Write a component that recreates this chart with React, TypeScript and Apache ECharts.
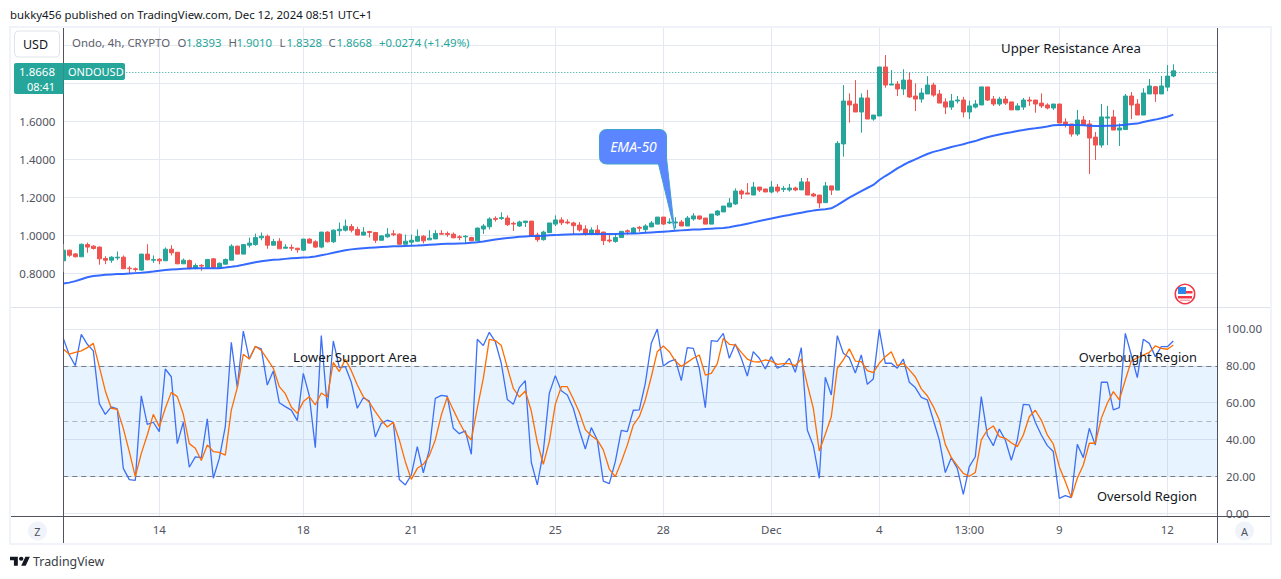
import React, { useEffect, useRef } from "react";
import * as echarts from "echarts";

const opens = [
  .867,.923,.903,.888,.952,.944,.939,.879,.870,.882,
  .886,.828,.825,.818,.902,.870,.875,.867,.928,.912,
  .851,.868,.826,.843,.833,.877,.830,.849,.870,.944,
  .902,.949,.952,.988,.996,.949,.970,.933,.937,.933,
  .923,.981,.967,.939,1.018,.967,1.025,1.028,1.047,1.032,
  1.002,1.021,1.016,.975,.993,1.009,1.007,.954,.965,.970,
  .996,.977,.982,1.011,1.011,1.007,.993,.993,.989,.972,
  1.034,1.046,1.090,1.089,1.092,1.064,1.050,1.068,1.076,1.003,
  .978,1.015,1.060,1.082,1.071,1.066,1.055,1.034,1.008,1.029,
  1.018,.976,.969,.989,1.025,1.011,1.043,1.031,1.045,1.060,
  1.097,1.066,1.066,1.071,1.050,1.087,1.103,1.092,1.060,1.108,
  1.124,1.150,1.166,1.234,1.224,1.213,1.255,1.245,1.229,1.255,
  1.243,1.240,1.250,1.240,1.282,1.218,1.213,1.173,1.261,1.239,
  1.482,1.708,1.692,1.650,1.724,1.613,1.629,1.887,1.792,1.797,
  1.771,1.818,1.734,1.718,1.745,1.792,1.745,1.703,1.676,1.708,
  1.713,1.650,1.676,1.687,1.782,1.718,1.692,1.718,1.703,1.661,
  1.676,1.713,1.713,1.697,1.687,1.671,1.692,1.597,1.587,1.534,
  1.608,1.587,1.518,1.476,1.618,1.624,1.555,1.558,1.734,1.692,
  1.634,1.745,1.783,1.745,1.781,1.8393,
];
const closes = [
  .923,.896,.888,.954,.939,.932,.877,.870,.886,.886,
  .825,.825,.821,.902,.872,.874,.867,.928,.909,.851,
  .870,.826,.842,.839,.874,.832,.854,.874,.944,.902,
  .952,.960,.989,.996,.949,.968,.930,.939,.933,.925,
  .981,.960,.939,1.018,.967,1.028,1.033,1.049,1.028,1.002,
  1.018,1.016,.975,.998,1.007,1.004,.954,.970,.975,.995,
  .972,.986,1.011,1.007,1.005,.988,.989,.996,.972,1.039,
  1.050,1.087,1.085,1.094,1.057,1.060,1.071,1.076,.997,.978,
  1.018,1.066,1.082,1.067,1.066,1.052,1.029,1.008,1.029,1.011,
  .973,.971,.990,1.022,1.020,1.039,1.038,1.050,1.066,1.097,
  1.060,1.071,1.071,1.050,1.092,1.103,1.087,1.060,1.113,1.129,
  1.155,1.171,1.234,1.218,1.218,1.255,1.239,1.229,1.255,1.234,
  1.248,1.250,1.240,1.282,1.213,1.208,1.171,1.261,1.239,1.485,
  1.708,1.687,1.650,1.724,1.613,1.634,1.887,1.792,1.797,1.771,
  1.818,1.729,1.718,1.750,1.792,1.739,1.697,1.676,1.708,1.713,
  1.650,1.682,1.692,1.782,1.713,1.692,1.718,1.697,1.661,1.682,
  1.713,1.708,1.692,1.682,1.671,1.692,1.592,1.582,1.534,1.608,
  1.582,1.513,1.476,1.624,1.624,1.555,1.566,1.734,1.687,1.634,
  1.750,1.787,1.745,1.787,1.839,1.8668,
];
const lows = [
  .865,.888,.885,.888,.909,.926,.846,.849,.856,.870,
  .825,.800,.809,.815,.870,.856,.849,.867,.895,.851,
  .851,.822,.822,.814,.833,.832,.830,.849,.870,.902,
  .902,.937,.946,.975,.930,.949,.930,.933,.919,.909,
  .918,.958,.935,.933,.963,.960,.998,1.021,1.016,1.000,
  1.000,.989,.961,.975,.988,.996,.951,.954,.949,.968,
  .958,.977,.982,1.005,.993,.986,.975,.958,.970,.972,
  1.008,1.032,1.073,1.082,1.050,1.024,1.045,1.045,.997,.967,
  .973,1.015,1.050,1.055,1.059,1.004,1.020,.999,1.002,1.002,
  .950,.962,.962,.989,1.003,1.011,1.020,1.011,1.045,1.060,
  1.055,1.060,1.038,1.050,1.050,1.078,1.082,1.060,1.060,1.103,
  1.124,1.150,1.160,1.192,1.218,1.213,1.229,1.229,1.222,1.225,
  1.229,1.231,1.233,1.240,1.213,1.203,1.145,1.173,1.213,1.239,
  1.415,1.594,1.650,1.541,1.613,1.604,1.629,1.778,1.792,1.734,
  1.739,1.724,1.655,1.699,1.745,1.730,1.697,1.639,1.661,1.695,
  1.622,1.613,1.669,1.687,1.708,1.682,1.682,1.687,1.661,1.661,
  1.661,1.682,1.646,1.671,1.664,1.661,1.592,1.569,1.520,1.524,
  1.582,1.324,1.397,1.462,1.476,1.555,1.471,1.555,1.613,1.634,
  1.634,1.745,1.703,1.745,1.760,1.8328,
];
const highs = [
  .925,.925,.908,.957,.963,.949,.942,.891,.891,.916,
  .895,.839,.832,.904,.954,.895,.881,.937,.949,.912,
  .879,.874,.853,.849,.874,.881,.858,.879,.954,.947,
  .954,.989,1.010,1.016,1.005,.982,.986,.954,.953,.935,
  .982,.985,.975,1.019,1.022,1.032,1.068,1.084,1.060,1.046,
  1.044,1.025,1.018,1.002,1.039,1.028,1.011,1.005,1.005,1.032,
  1.002,1.028,1.028,1.028,1.021,1.016,1.002,1.002,.993,1.042,
  1.060,1.096,1.101,1.122,1.106,1.073,1.078,1.076,1.076,1.015,
  1.025,1.066,1.106,1.096,1.085,1.073,1.071,1.054,1.043,1.054,
  1.020,1.004,1.008,1.022,1.032,1.045,1.050,1.059,1.076,1.097,
  1.097,1.090,1.096,1.082,1.103,1.118,1.103,1.092,1.113,1.134,
  1.155,1.197,1.248,1.243,1.276,1.282,1.255,1.245,1.287,1.271,
  1.261,1.271,1.257,1.303,1.303,1.225,1.213,1.282,1.261,1.497,
  1.792,1.748,1.818,1.748,1.766,1.634,1.887,1.950,1.871,1.813,
  1.875,1.859,1.801,1.775,1.839,1.804,1.766,1.722,1.745,1.734,
  1.730,1.710,1.713,1.782,1.782,1.734,1.730,1.734,1.703,1.696,
  1.724,1.730,1.713,1.748,1.696,1.692,1.692,1.617,1.587,1.661,
  1.629,1.608,1.545,1.692,1.682,1.661,1.590,1.745,1.755,1.718,
  1.775,1.824,1.787,1.839,1.897,1.9010,
];
const ema50 = [
  .747,.752,.760,.770,.780,.787,.790,.793,.795,.797,
  .798,.800,.802,.804,.807,.810,.814,.818,.821,.823,
  .825,.826,.827,.827,.828,.828,.828,.831,.835,.840,
  .846,.853,.859,.864,.869,.872,.874,.877,.880,.882,
  .884,.886,.890,.896,.902,.909,.916,.922,.927,.930,
  .933,.935,.937,.939,.941,.943,.944,.945,.946,.947,
  .949,.951,.953,.955,.956,.957,.958,.959,.962,.964,
  .968,.974,.979,.983,.987,.990,.993,.995,.997,.998,
  .999,1.001,1.002,1.004,1.005,1.006,1.007,1.008,1.008,1.008,
  1.008,1.008,1.008,1.009,1.010,1.011,1.012,1.014,1.016,1.018,
  1.020,1.022,1.025,1.027,1.029,1.031,1.032,1.034,1.036,1.038,
  1.040,1.044,1.050,1.055,1.062,1.069,1.076,1.083,1.089,1.096,
  1.103,1.108,1.114,1.120,1.126,1.131,1.135,1.138,1.143,1.160,
  1.180,1.199,1.217,1.234,1.250,1.266,1.292,1.313,1.332,1.353,
  1.371,1.387,1.401,1.415,1.429,1.440,1.448,1.457,1.466,1.473,
  1.480,1.490,1.497,1.508,1.517,1.525,1.532,1.538,1.543,1.550,
  1.555,1.561,1.564,1.569,1.574,1.580,1.582,1.582,1.582,1.582,
  1.580,1.578,1.576,1.576,1.578,1.578,1.580,1.583,1.587,1.589,
  1.597,1.604,1.610,1.617,1.625,1.636,
];
const stochK = [
  94.9,85.9,80.1,97.1,91.7,88.1,59.5,53.7,57.7,56.6,
  24.4,18.3,17.9,63.7,48.3,49.4,44.3,78.3,74.1,37.8,
  49.4,25,30.6,30.2,51.2,19,29.8,47,92.8,68.2,
  98.9,83.7,90.4,89.2,69.6,77.2,60,57.9,56,50.3,
  75.9,63.8,35.6,96.4,57,93.5,79,79.6,71.1,57,
  62.7,60.9,41.4,48.8,50.5,49.4,18.3,15.4,20.8,36.2,
  22,34.4,62.4,64,63.5,46.1,43.2,44.7,32,94.4,
  91,98.2,93.1,81.4,61.8,59.1,68.2,72,27.7,15.4,
  33.5,65.1,74.7,66.5,64.2,57,45.2,34.9,46.5,39.8,
  17.5,16.1,28,45,44.3,55.9,56.1,70.5,92.2,100,
  79.9,82.3,83.5,72,89.9,89.5,78.7,57.3,93.7,93.3,
  97.6,84.1,91.9,84.1,74.5,87.7,84.1,78.3,85,78.7,
  80.1,84.1,76.5,89.9,45.2,36.7,19,73.8,64.2,96.4,
  86.8,84.4,76.1,85.9,70,72.9,99.8,81.4,81.4,78.7,
  83.7,71.1,68.2,62.9,61.5,50.6,39.8,22.1,30.2,24.4,
  10.3,25.3,30.7,63.3,42.5,36.7,45.7,39.8,28.8,39.8,
  59.1,58.8,49.4,42.5,36.7,33.5,8.1,9.6,8.5,37.4,
  30.2,46.1,37,71.1,71.2,56.1,57.3,97.6,85.9,73.6,
  94.4,92.2,85,90.4,90.4,93.5,
];
const stochD = [
  89.2,86.3,87.3,88.1,89.9,92.2,79.6,66.4,57,56.4,
  46.1,33.5,19.9,32.5,42.5,53.7,47,57,65.6,63.3,
  53.7,37.8,35.3,28.6,37.1,33.5,33.1,31.6,56,68.2,
  86.3,83.7,90.6,88.4,83.7,78.7,68.7,64.9,57.7,54.2,
  60.6,63.3,58.8,65.3,63.1,81.9,76.9,83.5,77.4,69.6,
  63.3,60.2,55.2,50.6,46.8,49.4,39.8,28,18.4,24.4,
  26.6,31.3,39.8,53.3,63.1,56.1,49.4,43.4,39.8,57,
  73.2,94.4,93.7,91,79.2,67.8,63.1,66.4,55.5,38.5,
  26.6,38.9,59.1,68.7,68.7,62,54.8,45.4,42.1,39.8,
  34.4,24,19.9,28,37,47.9,52.4,61.5,74.1,87.7,
  90.8,87.7,82.6,79.6,81.9,84.1,85.9,75,75.9,81.2,
  94.9,91.7,91.3,87.3,83.7,82.3,82.1,83.2,82.6,80.8,
  81.2,81.2,80.1,83.7,70,57,33.8,42.9,52.4,78.7,
  83.2,89.2,82.6,82.3,77.4,76.3,81.4,85,87.7,80.1,
  81.4,77.8,74.1,67.5,63.8,57.9,50.6,37.4,30.2,25.9,
  21.7,20.1,22.1,39.8,45.2,47.4,41.6,40.7,38.3,36.2,
  42.5,52.4,55.9,50.6,42.5,37.6,25.3,17.2,8.5,19,
  26.2,38,38,51.5,59.7,66,61.5,72.3,82.6,84.4,
  85.9,87.3,90.8,89.5,89,91.3,
];

const timeTicks = [16, 40, 58, 82, 100, 118, 136, 151, 166, 184];
const timeLabels = ["14", "18", "21", "25", "28", "Dec", "4", "13:00", "9", "12"];
const priceGrid = [0.8, 1.0, 1.2, 1.4, 1.6, 1.8, 2.0];
const priceLabels = [0.8, 1.0, 1.2, 1.4, 1.6];
const oscTicks = [0, 20, 40, 60, 80, 100];
const oscLevels = [80, 50, 20];
const priceLineLevel = 1.8632;

const FONT = "'Noto Sans', sans-serif";
const GRID = "#E4E9F1";
const AXIS = "#50535E";
const UP = "#26A69A";
const DOWN = "#EF5350";
const TXT = "#131722";
const SLOTS = 192.283;

const xLabel = (v: number) => {
  const k = timeTicks.indexOf(v);
  return k < 0 ? "" : timeLabels[k];
};

const CALLOUT =
  "M607 129.5H659Q666.5 129.5 666.5 137L666.5 158L674.5 230L658.5 164H607Q599.5 164 599.5 156.5V137Q599.5 129.5 607 129.5Z";
const TVLOGO = "M14 22H7V11H0V4h14v18zM28 22h-8l7.5-18h8L28 22zM24 8a4 4 0 1 1-8 0a4 4 0 1 1 8 0z";

const text = (x: number, y: number, t: string, o: any = {}) => ({
  type: "text",
  z: 100,
  silent: true,
  x,
  y,
  style: {
    text: t,
    fill: o.fill ?? TXT,
    font: `${o.style ?? "normal"} ${o.weight ?? "normal"} ${o.size ?? 11.4}px ${FONT}`,
    textAlign: o.align ?? "left",
    textVerticalAlign: "middle",
  },
});
const hv = (x1: number, y1: number, x2: number, y2: number, stroke: string, lineWidth = 1) => ({
  type: "line",
  z: 50,
  silent: true,
  shape: { x1, y1, x2, y2 },
  style: { stroke, lineWidth },
});
const box = (x: number, y: number, width: number, height: number, fill: string, r: any = 0, stroke?: string) => ({
  type: "rect",
  z: 60,
  silent: true,
  shape: { x, y, width, height, r },
  style: { fill, stroke, lineWidth: stroke ? 1 : 0 },
});

export default function App() {
  const ref = useRef<HTMLDivElement>(null);
  useEffect(() => {
    if (!ref.current) return;
    echarts.graphic.registerShape("callout", echarts.graphic.extendPath(CALLOUT, {}));
    echarts.graphic.registerShape("tvlogo", echarts.graphic.extendPath(TVLOGO, {}));
    const chart = echarts.init(ref.current, undefined, { renderer: "svg" });
    const candles = opens.map((o, i) => [i, o, closes[i], lows[i], highs[i]]);
    const line = (arr: number[]) => arr.map((v, i) => [i, v]);
    const frame = "#F0F3FA";
    chart.setOption({
      animation: false,
      backgroundColor: "#FFFFFF",
      textStyle: { fontFamily: FONT },
      grid: [
        { left: 63.3, top: 27, width: 1153.7, height: 280 },
        { left: 63.3, top: 308, width: 1153.7, height: 208 },
      ],
      xAxis: [0, 1].map((g) => ({
        type: "value",
        gridIndex: g,
        min: 0,
        max: SLOTS,
        axisLine: { show: false },
        axisTick: { show: false, customValues: timeTicks },
        splitLine: { show: true, lineStyle: { color: GRID, width: 1 } },
        axisLabel: g === 1
          ? { show: true, customValues: timeTicks, formatter: xLabel, color: AXIS, fontSize: 11.5, fontFamily: FONT, margin: 7, showMinLabel: true, showMaxLabel: true, hideOverlap: false }
          : { show: false, customValues: timeTicks },
      })),
      yAxis: [
        {
          type: "value",
          gridIndex: 0,
          position: "left",
          min: 0.6237,
          max: 2.0974,
          scale: true,
          axisLine: { show: false },
          axisTick: { show: false, customValues: priceGrid },
          splitLine: { show: true, lineStyle: { color: GRID, width: 1 } },
          axisLabel: { customValues: priceLabels, formatter: (v: number) => v.toFixed(4), color: AXIS, fontSize: 11.5, fontFamily: FONT, margin: 8 },
        },
        {
          type: "value",
          gridIndex: 1,
          position: "right",
          min: -1.465,
          max: 111.39,
          scale: true,
          axisLine: { show: false },
          axisTick: { show: false, customValues: oscTicks },
          splitLine: { show: true, lineStyle: { color: GRID, width: 1 } },
          axisLabel: { customValues: oscTicks, formatter: (v: number) => v.toFixed(2), color: AXIS, fontSize: 11.5, fontFamily: FONT, margin: 9 },
        },
      ],
      series: [
        {
          name: "ONDOUSD",
          type: "candlestick",
          xAxisIndex: 0,
          yAxisIndex: 0,
          barWidth: 5,
          data: candles,
          encode: { x: 0, y: [1, 2, 3, 4] },
          itemStyle: { color: UP, color0: DOWN, borderColor: UP, borderColor0: DOWN, borderWidth: 1 },
          markLine: {
            silent: true,
            symbol: "none",
            label: { show: false },
            data: [{ yAxis: priceLineLevel }],
            lineStyle: { color: UP, type: [1, 2], width: 1 },
          },
        },
        {
          name: "EMA-50",
          type: "line",
          xAxisIndex: 0,
          yAxisIndex: 0,
          data: line(ema50),
          showSymbol: false,
          symbol: "none",
          lineStyle: { color: "#2962FF", width: 2, opacity: 0.95 },
        },
        {
          name: "%K",
          type: "line",
          xAxisIndex: 1,
          yAxisIndex: 1,
          data: line(stochK),
          symbol: "none",
          z: 5,
          lineStyle: { color: "#3D70F5", width: 1.3 },
          markArea: {
            silent: true,
            itemStyle: { color: "rgba(33,150,243,0.11)" },
            data: [[{ yAxis: oscLevels[0] }, { yAxis: oscLevels[2] }]],
          },
          markLine: {
            silent: true,
            symbol: "none",
            label: { show: false },
            data: [
              { yAxis: oscLevels[0], lineStyle: { color: "#787B86", type: [5, 4], width: 1 } },
              { yAxis: oscLevels[1], lineStyle: { color: "#B2B5BE", type: [5, 4], width: 1 } },
              { yAxis: oscLevels[2], lineStyle: { color: "#787B86", type: [5, 4], width: 1 } },
            ],
          },
        },
        {
          name: "%D",
          type: "line",
          xAxisIndex: 1,
          yAxisIndex: 1,
          data: line(stochD),
          symbol: "none",
          z: 6,
          lineStyle: { color: "#FF6D00", width: 1.3 },
        },
      ],
      graphic: {
        elements: [
          // trims the half of the first candle that lies left of the axis
          box(59, 244, 4.3, 28, "#FFFFFF"),
          // frame
          box(9, 26, 2, 518, frame),
          box(9, 26, 1263, 2, frame),
          box(1270, 26, 2, 518, frame),
          box(9, 543, 1263, 2, frame),
          hv(10, 307.5, 1270, 307.5, "#E0E3EB"),
          hv(10, 516.5, 1270, 516.5, AXIS),
          hv(63.5, 27, 63.5, 543, AXIS),
          hv(1217.5, 27, 1217.5, 543, AXIS),
          // header
          text(10, 14.5, "bukky456 published on TradingView.com, Dec 12, 2024 08:51 UTC+1"),
          box(14.5, 31, 45, 26, "#FFFFFF", 4, "#E0E3EB"),
          text(35.5, 44, "USD", { align: "center", size: 12.5 }),
          text(72, 42, "Ondo, 4h, CRYPTO", { fill: "#5D606B" }),
          text(177.5, 42, "O", { fill: "#5D606B" }),
          text(186, 42, "1.8393", { fill: UP }),
          text(228.5, 42, "H", { fill: "#5D606B" }),
          text(236.5, 42, "1.9010", { fill: UP }),
          text(279.5, 42, "L", { fill: "#5D606B" }),
          text(286.5, 42, "1.8328", { fill: UP }),
          text(328.5, 42, "C", { fill: "#5D606B" }),
          text(336.5, 42, "1.8668", { fill: UP }),
          text(379, 42, "+0.0274 (+1.49%)", { fill: UP }),
          // price tag
          box(14, 63, 49.5, 31, UP, [2, 0, 0, 2]),
          box(63.5, 63, 61.5, 17, UP, [0, 2, 2, 0]),
          text(55, 71.5, "1.8668", { fill: "#FFFFFF", align: "right", size: 11.5 }),
          text(55, 86, "08:41", { fill: "#FFFFFF", align: "right", size: 11 }),
          text(68, 71.5, "ONDOUSD", { fill: "#FFFFFF", size: 11 }),
          // callout
          { type: "callout", z: 80, silent: true, x: 0, y: 0, style: { fill: "#5B86FF", stroke: "#3FA2D0", lineWidth: 1 } },
          text(633.5, 146.5, "EMA-50", { fill: "#FFFFFF", style: "italic", size: 14, align: "center" }),
          // annotations
          text(1001, 48, "Upper Resistance Area", { size: 13.2 }),
          text(293, 357, "Lower Support Area", { size: 13.3 }),
          text(1197, 357, "Overbought Region", { size: 12.8, align: "right" }),
          text(1197, 496, "Oversold Region", { size: 12.9, align: "right" }),
          // flag
          { type: "circle", z: 60, silent: true, shape: { cx: 1185, cy: 294, r: 9.7 }, style: { fill: "#FFFFFF", stroke: "#F23645", lineWidth: 1.6 } },
          box(1178, 287, 8, 7, "#2E86E8"),
          box(1186, 291, 6.5, 2.5, "#F23645"),
          box(1178, 296, 14, 2.5, "#F23645"),
          box(1180, 299.5, 10, 1.5, "#F7A8AE"),
          // corner buttons
          { type: "circle", z: 60, silent: true, shape: { cx: 37.5, cy: 531, r: 9.5 }, style: { fill: "#F0F3FA" } },
          text(37.5, 531, "Z", { fill: "#50535E", align: "center", size: 11 }),
          { type: "circle", z: 60, silent: true, shape: { cx: 1244.5, cy: 531, r: 9.5 }, style: { fill: "#F0F3FA" } },
          text(1244.5, 531, "A", { fill: "#50535E", align: "center", size: 11 }),
          // footer
          { type: "tvlogo", z: 60, silent: true, x: 10, y: 554.7, scaleX: 0.56, scaleY: 0.5, style: { fill: "#131722" } },
          text(33, 561, "TradingView", { fill: "#3A3D46", size: 12.4 }),
        ],
      },
    });
    return () => chart.dispose();
  }, []);
  return <div ref={ref} style={{ position: "absolute", left: 0, top: 0, width: 1281, height: 579 }} />;
}
